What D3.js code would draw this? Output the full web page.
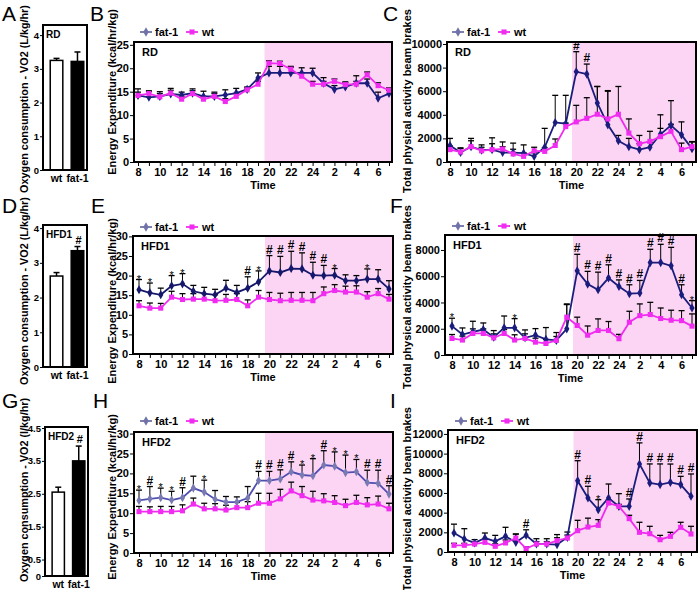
<!DOCTYPE html>
<html>
<head>
<meta charset="utf-8">
<script src="https://cdn.jsdelivr.net/npm/d3@7"></script>
<style>
  body { margin: 0; background: #fff; }
  svg text { font-family: "Liberation Sans", Arial, sans-serif; }
</style>
</head>
<body>
<svg id="fig" width="700" height="590"></svg>
<script>
// clock hours of the 24 h recording (8 am ... 7 am)
var hours = [8,9,10,11,12,13,14,15,16,17,18,19,20,21,22,23,24,1,2,3,4,5,6,7];
var groups = ['wt', 'fat-1'];

// VO2 bar panels (wt, fat-1)
var vo2RD = [3.25, 3.22],   vo2RDErr = [0.06, 0.28];
var vo2HFD1 = [2.62, 3.35], vo2HFD1Err = [0.1, 0.12];
var vo2HFD2 = [2.55, 3.5],  vo2HFD2Err = [0.15, 0.45];

// B: energy expenditure, RD
var eeRDfat = [14.2,13.8,14.0,14.5,14.3,14.7,14.0,14.0,14.3,14.7,15.5,17.9,19.0,19.0,19.0,19.0,19.0,16.8,15.5,16.0,16.8,16.8,13.6,14.6];
var eeRDfatErr = [1.4,1.2,1.0,1.2,0.6,0.9,1.1,0.9,1.1,1.0,0.5,1.1,1.4,1.4,1.2,1.1,1.0,1.2,0.8,0.9,1.6,0.9,1.3,0.7];
var eeRDwt = [14.2,14.6,13.9,14.7,13.4,14.6,13.4,14.0,12.9,14.0,15.4,16.6,21.1,21.0,19.8,18.3,16.6,16.6,17.2,16.5,16.6,18.6,16.3,15.3];
var eeRDwtErr = [0.7,0.6,0.7,0.6,0.5,0.6,0.6,0.6,0.6,0.6,0.4,0.6,0.5,0.5,0.6,0.7,0.6,0.6,0.5,0.6,0.6,0.6,0.6,0.5];
var eeRDsig = ['','','','','','','','','','','','','','','','','','','','','','','',''];

// C: activity, RD
var actRDfat = [1400,800,1300,1000,1050,800,800,750,480,1250,3350,3250,7650,7450,5000,3150,1800,1300,1050,1250,2350,3100,2300,1130];
var actRDfatErr = [600,400,500,450,1000,500,800,700,300,1600,2300,2400,1700,850,1400,2900,450,700,500,400,1650,2100,1100,600];
var actRDwt = [1050,850,1300,950,1050,1100,680,480,950,900,1400,3000,3400,3700,4050,3650,4050,2450,1550,1750,2150,2600,1050,1300];
var actRDwtErr = [300,300,700,300,500,600,400,300,300,300,550,300,1400,1750,2350,2350,2350,1200,700,850,700,600,550,400];
var actRDsig = ['','','','','','','','','','','','','#','#','','','','','','','','','',''];

// E: energy expenditure, HFD1
var eeH1fat = [16.4,15.6,15.1,17.4,17.9,16.0,15.4,15.1,16.8,15.7,16.8,18.4,21.2,20.8,21.8,21.7,20.1,20.0,20.1,18.7,18.7,19.1,19.1,16.6];
var eeH1fatErr = [2.6,2.5,1.7,2.6,2.6,1.5,1.6,1.4,2.0,1.8,2.9,2.8,3.9,4.1,4.4,4.1,3.3,2.6,1.7,1.5,1.3,2.6,2.4,2.1];
var eeH1wt = [12.3,11.7,11.7,14.5,13.9,14.0,14.0,13.6,13.7,13.9,12.3,14.5,13.9,13.6,13.7,13.7,13.6,15.4,16.2,15.8,15.8,14.5,15.4,14.0];
var eeH1wtErr = [1.3,1.3,1.2,1.5,1.5,1.4,1.4,1.5,1.5,1.5,1.5,1.7,1.8,1.9,2.0,2.0,2.1,1.7,1.5,1.5,1.6,1.4,1.3,1.2];
var eeH1sig = ['*','*','','*','*','','','','','','#','*','#','#','#','#','#','#','*','','','*','',''];

// F: activity, HFD1
var actH1fat = [2200,1560,1770,1940,1360,2070,2070,1310,1510,1190,1110,1990,6410,5400,4970,5860,5220,4670,4720,7040,7040,6790,4590,3580];
var actH1fatErr = [600,500,800,500,500,900,700,600,500,900,600,1900,1260,970,1340,1010,500,680,960,1010,1390,1410,760,560];
var actH1wt = [1260,1140,1640,1640,1310,1640,1140,1260,980,880,1110,2880,2250,1510,1870,1870,1240,2500,3000,3080,2780,2650,2620,2200];
var actH1wtErr = [300,300,350,350,300,300,400,350,300,300,300,960,630,700,880,680,330,830,890,930,800,760,760,930];
var actH1sig = ['*','','','','','','*','','','','','','#','#','#','#','#','#','#','#','#','#','#','*'];

// H: energy expenditure, HFD2
var eeH2fat = [13.2,13.6,13.9,13.3,13.9,16.3,15.3,13.5,12.8,12.8,13.8,18.2,18.2,18.6,20.4,19.6,19.4,22.1,21.8,20.2,20.4,17.7,17.5,14.8];
var eeH2fatErr = [2.6,3.1,2.4,2.2,2.5,3.0,3.0,2.2,1.4,1.3,2.9,2.3,2.3,2.3,2.5,2.5,4.3,3.6,3.6,4.4,3.1,3.1,3.3,2.1];
var eeH2wt = [10.4,10.4,10.4,10.4,10.6,12.3,11.1,11.1,10.8,11.4,11.4,12.5,12.5,13.6,15.6,14.4,13.3,13.1,12.7,11.9,12.7,12.1,12.3,11.1];
var eeH2wtErr = [1.3,1.2,1.3,1.3,1.5,1.5,1.4,1.3,1.2,1.3,1.5,2.5,2.5,2.4,2.2,2.3,2.2,1.8,1.7,1.6,1.8,1.8,2.0,1.4];
var eeH2sig = ['*','#','*','*','#','','*','','','','','#','#','#','#','*','*','#','*','*','*','#','#','#'];

// I: activity, HFD2
var actH2fat = [1930,1320,920,1420,1080,1590,980,1700,810,810,750,1490,7250,5490,4300,5490,4640,4640,8950,7020,6850,7080,6850,5660];
var actH2fatErr = [900,1050,340,510,610,920,850,560,540,540,1020,540,2030,1190,1020,1420,1290,750,2140,1930,2100,1860,840,2270];
var actH2wt = [680,680,810,980,580,920,1420,340,810,810,1150,1420,2170,2540,2710,4980,4640,3390,2000,1860,1250,1590,2510,1830];
var actH2wtErr = [200,200,250,300,250,300,400,200,250,250,300,300,1050,900,580,300,200,340,1020,750,440,410,510,780];
var actH2sig = ['','','','','','','','#','','','','','#','#','*','','','#','#','#','#','#','#','#'];

var pink = '#fcd5f4';
var magenta = '#f02cf0';
var navy = '#1a1d7c';
var legendBlue = '#7072a8';

var svg = d3.select('#fig');

// style helper for axis text
function styleAxis(ax, size) {
    ax.selectAll('text')
        .attr('font-size', size || '11px')
        .attr('font-weight', 'bold')
        .attr('font-family', '"Liberation Sans", Arial, sans-serif')
        .attr('fill', '#000');
    ax.selectAll('line').attr('stroke', '#000').attr('stroke-width', 1);
}

function yLabel(text, x, y, size) {
    svg.append('text')
        .attr('transform', 'translate(' + x + ',' + y + ') rotate(-90)')
        .attr('text-anchor', 'middle')
        .attr('font-size', size || '11px')
        .attr('font-weight', 'bold')
        .text(text);
}

function panelLetter(letter, x, y) {
    svg.append('text')
        .attr('x', x).attr('y', y)
        .attr('font-size', '21px')
        .text(letter);
}

//function for the VO2 bar panels
function drawBar(c) {
    var g = svg.append('g');
    var x = d3.scaleBand().domain(groups).range([c.left + 2, c.right + 2]).paddingInner(0.4).paddingOuter(0.25);
    var y = d3.scaleLinear().domain([0, c.ymax]).range([c.bottom, c.top]);

    // bars
    g.selectAll('.bar')
        .data(c.values)
        .enter().append('rect')
        .attr('x', function (d, i) { return x(groups[i]); })
        .attr('y', function (d) { return y(d); })
        .attr('width', x.bandwidth())
        .attr('height', function (d) { return c.bottom - y(d); })
        .attr('fill', function (d, i) { return i === 0 ? '#fff' : '#000'; })
        .attr('stroke', '#000')
        .attr('stroke-width', 1.5);

    // error bars (upper half only)
    c.values.forEach(function (v, i) {
        var cx = x(groups[i]) + x.bandwidth() / 2;
        g.append('line').attr('x1', cx).attr('x2', cx)
            .attr('y1', y(v)).attr('y2', y(v + c.errs[i]))
            .attr('stroke', '#000').attr('stroke-width', 1.5);
        g.append('line').attr('x1', cx - 3).attr('x2', cx + 3)
            .attr('y1', y(v + c.errs[i])).attr('y2', y(v + c.errs[i]))
            .attr('stroke', '#000').attr('stroke-width', 1.5);
        if (c.sig && c.sig[i]) {
            g.append('text').attr('x', cx + 1).attr('y', y(v + c.errs[i]) - 3)
                .attr('text-anchor', 'middle').attr('font-size', '11px').attr('font-weight', 'bold')
                .text(c.sig[i]);
        }
    });

    var ax = g.append('g')
        .attr('transform', 'translate(' + c.left + ',0)')
        .call(d3.axisLeft(y).tickValues(c.ticks).tickSize(3).tickPadding(1).tickFormat(c.fmt));
    ax.select('.domain').remove();
    styleAxis(ax, '9.5px');

    // group labels
    groups.forEach(function (name) {
        g.append('text')
            .attr('x', x(name) + x.bandwidth() / 2)
            .attr('y', c.bottom + 12)
            .attr('text-anchor', 'middle')
            .attr('font-size', '10.5px').attr('font-weight', 'bold')
            .text(name);
    });

    g.append('rect')
        .attr('x', c.left).attr('y', c.top)
        .attr('width', c.right - c.left).attr('height', c.bottom - c.top)
        .attr('fill', 'none').attr('stroke', '#000').attr('stroke-width', 2);

    g.append('text').attr('x', c.left + 3).attr('y', c.top + 13)
        .attr('font-size', '10px').attr('font-weight', 'bold').text(c.tag);
}

//function for the 24 h time course panels
function drawLine(c) {
    var g = svg.append('g');
    var x = d3.scalePoint().domain(d3.range(hours.length)).range([c.x0, c.x1]);
    var y = d3.scaleLinear().domain([0, c.ymax]).range([c.bottom, c.top]);

    // dark phase shading, from 19:30 on
    var shadeX = (x(11) + x(12)) / 2 + 1;
    g.append('rect')
        .attr('x', shadeX).attr('y', c.top)
        .attr('width', c.right - shadeX).attr('height', c.bottom - c.top)
        .attr('fill', pink);

    var yAx = g.append('g')
        .attr('transform', 'translate(' + c.left + ',0)')
        .call(d3.axisLeft(y).tickValues(c.yticks).tickSize(4).tickPadding(1).tickFormat(d3.format('d')));
    yAx.select('.domain').remove();
    styleAxis(yAx);

    var xAx = g.append('g')
        .attr('transform', 'translate(0,' + c.bottom + ')')
        .call(d3.axisBottom(x).tickSize(4).tickPadding(2)
            .tickFormat(function (i) { return i % 2 === 0 ? hours[i] : ''; }));
    xAx.select('.domain').remove();
    styleAxis(xAx);

    var series = [
        { v: c.fat, e: c.fatErr, color: c.fatColor, marker: d3.symbolDiamond, mcolor: c.fatMarker, msize: 24 },
        { v: c.wt, e: c.wtErr, color: magenta, marker: d3.symbolSquare, mcolor: magenta, msize: 26 }
    ];

    // error bars
    series.forEach(function (s) {
        s.v.forEach(function (v, i) {
            var top = y(v + s.e[i]);
            g.append('line').attr('x1', x(i)).attr('x2', x(i))
                .attr('y1', y(v)).attr('y2', top)
                .attr('stroke', '#000').attr('stroke-width', 1);
            g.append('line').attr('x1', x(i) - 3).attr('x2', x(i) + 3)
                .attr('y1', top).attr('y2', top)
                .attr('stroke', '#000').attr('stroke-width', 1.3);
        });
    });

    var line = d3.line()
        .x(function (d, i) { return x(i); })
        .y(function (d) { return y(d); });

    series.forEach(function (s) {
        g.append('path').datum(s.v)
            .attr('d', line)
            .attr('fill', 'none')
            .attr('stroke', s.color)
            .attr('stroke-width', 1.8);
        g.selectAll(null).data(s.v).enter().append('path')
            .attr('transform', function (d, i) { return 'translate(' + x(i) + ',' + y(d) + ')'; })
            .attr('d', d3.symbol().type(s.marker).size(s.msize))
            .attr('fill', s.mcolor);
    });

    // significance marks above fat-1 error bars
    c.sig.forEach(function (m, i) {
        if (!m) return;
        var top = y(c.fat[i] + c.fatErr[i]);
        g.append('text')
            .attr('x', x(i)).attr('y', m === '#' ? top - 2 : top + 3)
            .attr('text-anchor', 'middle')
            .attr('font-size', m === '#' ? '12px' : '11px')
            .attr('font-weight', m === '#' ? 'bold' : 'normal')
            .text(m);
    });

    g.append('rect')
        .attr('x', c.left).attr('y', c.top)
        .attr('width', c.right - c.left).attr('height', c.bottom - c.top)
        .attr('fill', 'none').attr('stroke', '#000').attr('stroke-width', 2);

    g.append('text').attr('x', c.left + 8).attr('y', c.top + 14)
        .attr('font-size', '11px').attr('font-weight', 'bold').text(c.tag);

    g.append('text')
        .attr('x', (c.left + c.right) / 2).attr('y', c.bottom + 27)
        .attr('text-anchor', 'middle')
        .attr('font-size', '11px').attr('font-weight', 'bold')
        .text('Time');

    // legend
    var lg = g.append('g').attr('transform', 'translate(' + c.legX + ',' + c.legY + ')');
    lg.append('line').attr('x1', 0).attr('x2', 12).attr('stroke', legendBlue).attr('stroke-width', 1.8);
    lg.append('path').attr('transform', 'translate(6,0)')
        .attr('d', d3.symbol().type(d3.symbolDiamond).size(26)).attr('fill', legendBlue);
    lg.append('text').attr('x', 15).attr('y', 4)
        .attr('font-size', '11px').attr('font-weight', 'bold').text('fat-1');
    lg.append('line').attr('x1', 46).attr('x2', 58).attr('stroke', magenta).attr('stroke-width', 1.8);
    lg.append('path').attr('transform', 'translate(52,0)')
        .attr('d', d3.symbol().type(d3.symbolSquare).size(26)).attr('fill', magenta);
    lg.append('text').attr('x', 62).attr('y', 4)
        .attr('font-size', '11px').attr('font-weight', 'bold').text('wt');
}

var fmtInt = d3.format('d');
var fmtHalf = function (d) { return d === 0 ? '0' : d3.format('.1f')(d); };

// row 1 : RD
drawBar({ left: 43, right: 87, top: 25, bottom: 170, ymax: 4.3, ticks: [0,1,2,3,4], fmt: fmtInt,
    values: vo2RD, errs: vo2RDErr, tag: 'RD' });
drawLine({ left: 134, right: 392, top: 42, bottom: 162, x0: 138, x1: 389, ymax: 25.6,
    yticks: [0,5,10,15,20,25], fat: eeRDfat, fatErr: eeRDfatErr, wt: eeRDwt, wtErr: eeRDwtErr,
    sig: eeRDsig, fatColor: navy, fatMarker: navy, tag: 'RD', legX: 140, legY: 32 });
drawLine({ left: 447, right: 696, top: 42, bottom: 162, x0: 450, x1: 692, ymax: 10170,
    yticks: [0,2000,4000,6000,8000,10000], fat: actRDfat, fatErr: actRDfatErr, wt: actRDwt, wtErr: actRDwtErr,
    sig: actRDsig, fatColor: navy, fatMarker: navy, tag: 'RD', legX: 452, legY: 32 });

// row 2 : HFD1
drawBar({ left: 43, right: 87, top: 225, bottom: 367, ymax: 4.09, ticks: [0,1,2,3,4], fmt: fmtInt,
    values: vo2HFD1, errs: vo2HFD1Err, sig: ['', '#'], tag: 'HFD1' });
drawLine({ left: 133, right: 393, top: 236, bottom: 354, x0: 139, x1: 389, ymax: 30.1,
    yticks: [0,5,10,15,20,25,30], fat: eeH1fat, fatErr: eeH1fatErr, wt: eeH1wt, wtErr: eeH1wtErr,
    sig: eeH1sig, fatColor: '#14176a', fatMarker: '#14176a', tag: 'HFD1', legX: 140, legY: 227 });
drawLine({ left: 445, right: 696, top: 235, bottom: 355, x0: 452, x1: 692, ymax: 9140,
    yticks: [0,2000,4000,6000,8000], fat: actH1fat, fatErr: actH1fatErr, wt: actH1wt, wtErr: actH1wtErr,
    sig: actH1sig, fatColor: navy, fatMarker: navy, tag: 'HFD1', legX: 452, legY: 226 });

// row 3 : HFD2
drawBar({ left: 45, right: 88, top: 427, bottom: 576, ymax: 4.53, ticks: [0,0.5,1.5,2.5,3.5,4.5], fmt: fmtHalf,
    values: vo2HFD2, errs: vo2HFD2Err, sig: ['', '#'], tag: 'HFD2' });
drawLine({ left: 134, right: 393, top: 432, bottom: 553, x0: 139, x1: 389, ymax: 30.4,
    yticks: [0,5,10,15,20,25,30], fat: eeH2fat, fatErr: eeH2fatErr, wt: eeH2wt, wtErr: eeH2wtErr,
    sig: eeH2sig, fatColor: '#4f4fb2', fatMarker: '#7a7ab2', tag: 'HFD2', legX: 140, legY: 421 });
drawLine({ left: 448, right: 697, top: 430, bottom: 552, x0: 454, x1: 691, ymax: 12400,
    yticks: [0,2000,4000,6000,8000,10000,12000], fat: actH2fat, fatErr: actH2fatErr, wt: actH2wt, wtErr: actH2wtErr,
    sig: actH2sig, fatColor: navy, fatMarker: navy, tag: 'HFD2', legX: 455, legY: 421 });

// axis titles
yLabel('Oxygen consumption - VO2 (L/kg/hr)', 28, 99, '10.8px');
yLabel('Oxygen consumption - VO2 (L/kg/hr)', 28, 291, '10.8px');
yLabel('Oxygen consumption - VO2 (l/kg/hr)', 28, 490, '10.8px');
yLabel('Energy Expenditure  (kcal/hr/kg)', 116, 92);
yLabel('Energy Expenditure (kcal/hr/kg)', 116, 301);
yLabel('Energy Expenditure (kcal/hr/kg)', 116, 497);
yLabel('Total physical activity beam brakes', 411, 101);
yLabel('Total physical activity beam brakes', 411, 297);
yLabel('Total physical activity beam brakes', 411, 499);

// panel letters
panelLetter('A', 2, 21);
panelLetter('B', 90, 21);
panelLetter('C', 383, 21);
panelLetter('D', 2, 213);
panelLetter('E', 91, 213);
panelLetter('F', 390, 213);
panelLetter('G', 2, 408);
panelLetter('H', 93, 408);
panelLetter('I', 390, 408);
</script>
</body>
</html>
